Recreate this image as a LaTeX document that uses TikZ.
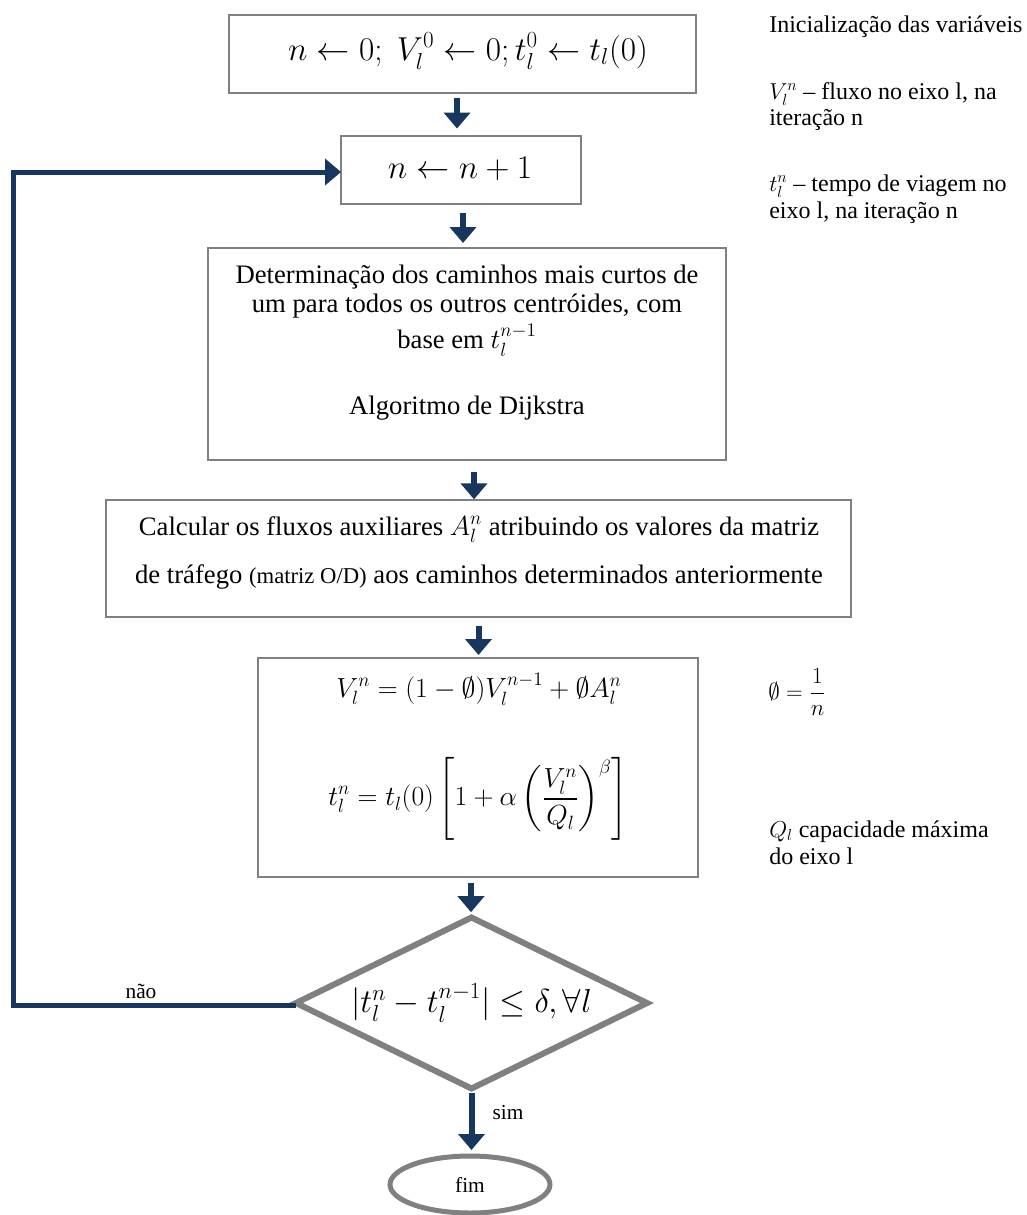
\documentclass[tikz,border=0pt]{standalone}
\usepackage{amsmath}
\usepackage{fontspec}
\setmainfont{Liberation Serif}
\usetikzlibrary{arrows.meta,shapes.geometric}
\definecolor{navy}{RGB}{23,55,94}
\definecolor{boxgray}{RGB}{128,128,128}
\begin{document}
\begin{tikzpicture}[x=0.75pt,y=-0.75pt,
  box/.style={draw=boxgray,line width=1.5pt,inner sep=0pt,outer sep=0pt},
  flow/.style={draw=navy,line width=4.5pt,-{Triangle[width=19.5pt,length=12pt]}},
  loopline/.style={draw=navy,line width=3.75pt,-{Triangle[width=19.5pt,length=12pt]}},
  body/.style={font=\fontsize{20}{22.5}\selectfont,inner sep=0pt,anchor=base},
  note/.style={font=\fontsize{18}{20}\selectfont,inner sep=0pt,anchor=base west},
  small/.style={font=\fontsize{16}{18}\selectfont,inner sep=0pt},
  dia/.style={diamond,draw=boxgray,line width=4.5pt,inner sep=0pt,outer sep=0pt,aspect=2.05,
    minimum width=263.25pt,minimum height=128.25pt,font=\fontsize{26}{30}\selectfont},
  term/.style={ellipse,draw=boxgray,line width=3.75pt,inner sep=0pt,outer sep=0pt,
    minimum width=120pt,minimum height=42.75pt,font=\fontsize{16}{18}\selectfont}
]
\fill[white] (0,0) rectangle (1027,1215);
\useasboundingbox (0,0) rectangle (1027,1215);

% boxes
\node[box,minimum width=350.25pt,minimum height=58.5pt] (b1) at (462.5,54) {};
\node[box,minimum width=180pt,minimum height=51pt] (b2) at (461,170) {};
\node[box,minimum width=388.5pt,minimum height=159pt] (b3) at (467,354) {};
\node[box,minimum width=558.75pt,minimum height=87.75pt] (b4) at (478.5,558.5) {};
\node[box,minimum width=330pt,minimum height=164.25pt] (b5) at (478,767.5) {};
\node[dia] (d) at (471.5,1003) {$|t_l^n - t_l^{n-1}| \le \delta, \forall l$};
\node[term] (e) at (470,1184.5) {fim};

% box texts
\node[inner sep=0pt,anchor=base,font=\fontsize{26}{30}\selectfont] (t1) at (468,60)
  {$n \leftarrow 0;\ V_l^0 \leftarrow 0; t_l^0 \leftarrow t_l(0)$};
\node[inner sep=0pt,anchor=base,font=\fontsize{24.5}{28}\selectfont] (t2) at (460,178)
  {$n \leftarrow n + 1$};
\node[body] (t3a) at (467,283) {Determinação dos caminhos mais curtos de};
\node[body] (t3b) at (467,312) {um para todos os outros centróides, com};
\node[body] (t3c) at (467,348) {base em $t_l^{n-1}$};
\node[body] (t3d) at (467,414) {Algoritmo de Dijkstra};
\node[body] (t4a) at (479,535) {Calcular os fluxos auxiliares $A_l^n$ atribuindo os valores da matriz};
\node[body] (t4b) at (479,583) {de tráfego {\fontsize{17}{20}\selectfont(matriz O/D)} aos caminhos determinados anteriormente};
\node[inner sep=0pt,anchor=base,font=\fontsize{22}{26}\selectfont] (t5a) at (479,697)
  {$V_l^n = (1-\emptyset)V_l^{n-1} + \emptyset A_l^n$};
\node[inner sep=0pt,font=\fontsize{21}{25}\selectfont] (t5b) at (478,799)
  {$\displaystyle t_l^n = t_l(0)\left[1+\alpha\left(\frac{V_l^n}{Q_l}\right)^{\beta}\right]$};

% notes
\node[note] (n1) at (769,32) {Inicialização das variáveis};
\node[note] (n2) at (769,99) {$V_l^n$ – fluxo no eixo l, na};
\node[note] (n3) at (769,125) {iteração n};
\node[note] (n4) at (769,191) {$t_l^n$ – tempo de viagem no};
\node[note] (n5) at (769,218) {eixo l, na iteração n};
\node[inner sep=0pt,anchor=west,font=\fontsize{19}{22}\selectfont] (n6) at (768,692)
  {$\emptyset = \dfrac{1}{n}$};
\node[note] (n7) at (769,837) {$Q_l$ capacidade máxima};
\node[note] (n8) at (769,864) {do eixo l};

% connectors
\draw[flow,shorten <=3.75pt,shorten >=5.6pt] ([xshift=-4.1pt]b1.south) -- ([xshift=-4.1pt]b1.south |- b2.north);
\draw[flow,shorten <=6.75pt,shorten >=3.75pt] ([xshift=1.5pt]b2.south) -- ([xshift=1.5pt]b2.south |- b3.north);
\draw[flow,shorten <=9pt,shorten >=0.5pt] ([xshift=5.25pt]b3.south) -- ([xshift=5.25pt]b3.south |- b4.north);
\draw[flow,shorten <=6.75pt,shorten >=2.25pt] (b4.south) -- (b4.south |- b5.north);
\draw[flow,shorten <=4.5pt,shorten >=4pt] ([xshift=-5.25pt]b5.south) -- ([xshift=-5.25pt]b5.south |- d.north);
\draw[flow,shorten <=3.4pt,shorten >=4.5pt] (d.south) -- (d.south |- e.north);

\coordinate (c) at (13,600);
\draw[loopline] ([yshift=-2pt]d.west) -- ([yshift=-2pt]d.west -| c) -- ([yshift=-1.5pt]c |- b2.west) -- ([yshift=-1.5pt]b2.west);

\node[small] (no) at (141,991) {não};
\node[small] (yes) at (508,1113) {sim};
\end{tikzpicture}
\end{document}
